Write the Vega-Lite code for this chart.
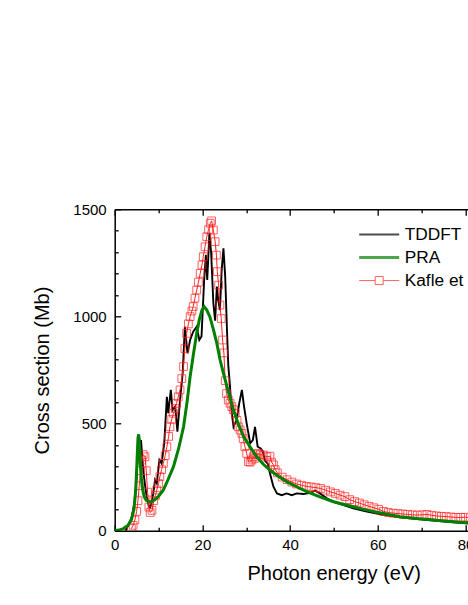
{
  "$schema": "https://vega.github.io/schema/vega-lite/v6.json",
  "width": 353.3,
  "height": 321.4,
  "autosize": {"type": "none"},
  "padding": {"left": 114.7, "top": 209.3, "right": 0, "bottom": 74.3},
  "config": {
    "font": "Liberation Sans",
    "view": {"stroke": null},
    "axis": {
      "domainColor": "black", "domainWidth": 1.5, "tickColor": "black", "tickWidth": 1.3,
      "labelColor": "black", "labelFont": "Liberation Sans", "labelFontSize": 15,
      "titleColor": "black", "titleFont": "Liberation Sans", "titleFontSize": 20, "titleFontWeight": "normal",
      "grid": false, "labelFlush": false, "labelOverlap": false
    }
  },
  "datasets": {
    "tddft": [
      {"e":2.5,"cs":0},{"e":3.1,"cs":26},{"e":3.9,"cs":65},{"e":4.6,"cs":143},{"e":5.0,"cs":250},{"e":5.3,"cs":380},{"e":5.6,"cs":431},{"e":5.8,"cs":400},{"e":6.0,"cs":423},{"e":6.5,"cs":283},{"e":7.0,"cs":200},{"e":7.3,"cs":159},{"e":7.8,"cs":112},{"e":8.1,"cs":109},{"e":8.5,"cs":140},{"e":8.8,"cs":174},{"e":9.2,"cs":237},{"e":9.6,"cs":221},{"e":10.2,"cs":330},{"e":10.7,"cs":314},{"e":11.3,"cs":408},{"e":11.9,"cs":625},{"e":12.2,"cs":548},{"e":12.8,"cs":657},{"e":13.2,"cs":563},{"e":13.8,"cs":579},{"e":14.3,"cs":462},{"e":14.9,"cs":610},{"e":15.5,"cs":734},{"e":16.0,"cs":952},{"e":16.6,"cs":828},{"e":17.2,"cs":890},{"e":17.9,"cs":929},{"e":18.7,"cs":952},{"e":19.3,"cs":890},{"e":19.8,"cs":906},{"e":20.4,"cs":1170},{"e":20.8,"cs":1287},{"e":21.1,"cs":1170},{"e":21.6,"cs":1388},{"e":22.0,"cs":1295},{"e":22.5,"cs":1061},{"e":22.9,"cs":980},{"e":23.3,"cs":1139},{"e":23.6,"cs":1077},{"e":24.0,"cs":1030},{"e":24.4,"cs":1217},{"e":24.8,"cs":1318},{"e":25.2,"cs":1186},{"e":25.6,"cs":940},{"e":25.9,"cs":773},{"e":26.3,"cs":672},{"e":26.7,"cs":548},{"e":27.1,"cs":485},{"e":27.8,"cs":517},{"e":28.4,"cs":594},{"e":29.0,"cs":657},{"e":29.5,"cs":579},{"e":30.1,"cs":500},{"e":30.9,"cs":408},{"e":31.5,"cs":423},{"e":32.0,"cs":485},{"e":32.6,"cs":392},{"e":33.3,"cs":384},{"e":33.8,"cs":369},{"e":34.3,"cs":325},{"e":34.9,"cs":314},{"e":35.4,"cs":268},{"e":36.2,"cs":205},{"e":37.0,"cs":174},{"e":38.1,"cs":166},{"e":39.2,"cs":174},{"e":40.4,"cs":166},{"e":41.5,"cs":174},{"e":43.0,"cs":171},{"e":44.6,"cs":177},{"e":45.7,"cs":187},{"e":46.8,"cs":174},{"e":48.4,"cs":151},{"e":49.9,"cs":135},{"e":52.2,"cs":120},{"e":54.4,"cs":104},{"e":57.5,"cs":89},{"e":61.0,"cs":75},{"e":65.0,"cs":62},{"e":69.0,"cs":54},{"e":72.7,"cs":47},{"e":76.5,"cs":40},{"e":80.3,"cs":34},{"e":82.0,"cs":32}
    ],
    "pra": [
      {"e":0,"cs":0},{"e":1,"cs":3},{"e":2,"cs":10},{"e":3,"cs":25},{"e":3.8,"cs":50},{"e":4.4,"cs":100},{"e":4.8,"cs":190},{"e":5.1,"cs":330},{"e":5.3,"cs":430},{"e":5.45,"cs":450},{"e":5.6,"cs":420},{"e":5.8,"cs":330},{"e":6.0,"cs":260},{"e":6.3,"cs":200},{"e":6.7,"cs":160},{"e":7.2,"cs":142},{"e":7.8,"cs":136},{"e":8.4,"cs":135},{"e":9.2,"cs":145},{"e":10.1,"cs":163},{"e":11.1,"cs":190},{"e":12.2,"cs":240},{"e":13.4,"cs":299},{"e":14.6,"cs":385},{"e":15.7,"cs":485},{"e":16.5,"cs":600},{"e":17.2,"cs":719},{"e":18.0,"cs":830},{"e":18.7,"cs":921},{"e":19.3,"cs":985},{"e":19.9,"cs":1030},{"e":20.4,"cs":1046},{"e":21.0,"cs":1030},{"e":21.7,"cs":999},{"e":22.5,"cs":940},{"e":23.3,"cs":874},{"e":24.0,"cs":800},{"e":24.8,"cs":734},{"e":25.9,"cs":650},{"e":27.1,"cs":563},{"e":28.2,"cs":497},{"e":29.4,"cs":439},{"e":30.9,"cs":390},{"e":32.4,"cs":345},{"e":33.9,"cs":310},{"e":35.4,"cs":283},{"e":37.3,"cs":254},{"e":39.2,"cs":229},{"e":41.5,"cs":205},{"e":43.8,"cs":182},{"e":46.8,"cs":158},{"e":49.9,"cs":135},{"e":53.7,"cs":115},{"e":57.5,"cs":96},{"e":61.3,"cs":80},{"e":65.1,"cs":65},{"e":68.9,"cs":57},{"e":72.7,"cs":50},{"e":76.5,"cs":43},{"e":80.3,"cs":37},{"e":82.0,"cs":35}
    ],
    "kafle": [
      {"e":3.8,"cs":10},{"e":4.2,"cs":25},{"e":4.6,"cs":50},{"e":5.0,"cs":90},{"e":5.3,"cs":140},{"e":5.6,"cs":210},{"e":5.9,"cs":280},{"e":6.2,"cs":330},{"e":6.5,"cs":355},{"e":6.9,"cs":345},{"e":7.2,"cs":280},{"e":7.5,"cs":180},{"e":7.8,"cs":110},{"e":8.1,"cs":85},{"e":8.5,"cs":95},{"e":8.9,"cs":140},{"e":9.3,"cs":165},{"e":9.6,"cs":190},{"e":10.0,"cs":220},{"e":10.3,"cs":252},{"e":10.7,"cs":285},{"e":11.1,"cs":314},{"e":11.5,"cs":350},{"e":11.9,"cs":392},{"e":12.3,"cs":440},{"e":12.6,"cs":485},{"e":13.0,"cs":520},{"e":13.4,"cs":548},{"e":13.8,"cs":570},{"e":14.1,"cs":594},{"e":14.5,"cs":625},{"e":14.9,"cs":657},{"e":15.3,"cs":710},{"e":15.7,"cs":766},{"e":16.0,"cs":850},{"e":16.4,"cs":921},{"e":16.8,"cs":965},{"e":17.2,"cs":999},{"e":17.6,"cs":1025},{"e":17.9,"cs":1046},{"e":18.3,"cs":1085},{"e":18.7,"cs":1123},{"e":19.1,"cs":1160},{"e":19.5,"cs":1201},{"e":19.9,"cs":1240},{"e":20.2,"cs":1279},{"e":20.6,"cs":1325},{"e":21.0,"cs":1372},{"e":21.4,"cs":1405},{"e":21.8,"cs":1435},{"e":22.1,"cs":1446},{"e":22.5,"cs":1403},{"e":22.9,"cs":1349},{"e":23.2,"cs":1286},{"e":23.4,"cs":1209},{"e":23.7,"cs":1146},{"e":24.0,"cs":1053},{"e":24.3,"cs":990},{"e":24.6,"cs":890},{"e":24.9,"cs":830},{"e":25.2,"cs":700},{"e":25.5,"cs":640},{"e":25.9,"cs":610},{"e":26.3,"cs":595},{"e":26.7,"cs":579},{"e":27.1,"cs":565},{"e":27.5,"cs":548},{"e":27.9,"cs":515},{"e":28.2,"cs":485},{"e":28.6,"cs":470},{"e":29.0,"cs":454},{"e":29.3,"cs":430},{"e":29.7,"cs":392},{"e":30.1,"cs":361},{"e":30.5,"cs":322},{"e":30.9,"cs":320},{"e":31.3,"cs":330},{"e":31.6,"cs":345},{"e":32.0,"cs":338},{"e":32.4,"cs":355},{"e":32.7,"cs":361},{"e":33.2,"cs":355},{"e":33.9,"cs":353},{"e":34.7,"cs":345},{"e":35.4,"cs":348},{"e":35.8,"cs":320},{"e":36.2,"cs":307},{"e":36.6,"cs":285},{"e":37.1,"cs":270},{"e":38.2,"cs":250},{"e":39.3,"cs":238},{"e":40.4,"cs":227},{"e":41.5,"cs":218},{"e":42.6,"cs":212},{"e":43.7,"cs":207},{"e":44.8,"cs":204},{"e":45.9,"cs":201},{"e":47.0,"cs":197},{"e":48.1,"cs":189},{"e":49.2,"cs":181},{"e":50.3,"cs":174},{"e":51.4,"cs":166},{"e":52.5,"cs":159},{"e":53.6,"cs":145},{"e":54.7,"cs":136},{"e":55.8,"cs":129},{"e":56.9,"cs":121},{"e":58.0,"cs":114},{"e":59.1,"cs":107},{"e":60.2,"cs":100},{"e":61.3,"cs":90},{"e":62.4,"cs":85},{"e":63.5,"cs":82},{"e":64.6,"cs":80},{"e":65.7,"cs":78},{"e":66.8,"cs":76},{"e":67.9,"cs":74},{"e":69.0,"cs":73},{"e":70.1,"cs":74},{"e":71.2,"cs":76},{"e":72.3,"cs":72},{"e":73.4,"cs":69},{"e":74.5,"cs":67},{"e":75.6,"cs":66},{"e":76.7,"cs":64},{"e":77.8,"cs":62},{"e":78.9,"cs":62},{"e":80.0,"cs":63},{"e":81.1,"cs":60}
    ],
    "leg": [
      {"series":"TDDFT","e":null,"cs":null},
      {"series":"PRA","e":null,"cs":null},
      {"series":"Kafle et al.","e":null,"cs":null}
    ]
  },
  "layer": [
    {
      "data": {"name": "tddft"},
      "mark": {"type": "line", "color": "black", "strokeWidth": 1.9, "clip": true},
      "encoding": {
        "x": {"field": "e", "type": "quantitative", "scale": {"domain": [0, 80.57], "nice": false},
          "axis": {"orient": "bottom", "values": [0,10,20,30,40,50,60,70,80],
            "labelExpr": "datum.value % 20 === 0 ? datum.label : ''",
            "tickSize": {"condition": {"test": "datum.value % 20 === 0", "value": -6}, "value": -3.5},
            "labelPadding": 13, "title": "Photon energy (eV)", "titleX": 219, "titlePadding": 8}},
        "y": {"field": "cs", "type": "quantitative", "scale": {"domain": [0, 1500], "nice": false},
          "axis": {"orient": "left", "values": [0,100,200,300,400,500,600,700,800,900,1000,1100,1200,1300,1400,1500],
            "labelExpr": "datum.value % 500 === 0 ? datum.label : ''",
            "tickSize": {"condition": {"test": "datum.value % 500 === 0", "value": -6}, "value": -3.5},
            "labelPadding": 14.5, "title": "Cross section (Mb)", "titlePadding": 20, "format": "d"}}
      }
    },
    {
      "data": {"name": "kafle"},
      "mark": {"type": "line", "color": "#ff2020", "strokeWidth": 1, "clip": true},
      "encoding": {
        "x": {"field": "e", "type": "quantitative", "axis": null},
        "y": {"field": "cs", "type": "quantitative", "axis": null}
      }
    },
    {
      "data": {"name": "kafle"},
      "mark": {"type": "point", "shape": "square", "size": 60, "filled": false, "color": "#ff2020", "strokeWidth": 1, "opacity": 0.7, "clip": true},
      "encoding": {
        "x": {"field": "e", "type": "quantitative", "axis": null},
        "y": {"field": "cs", "type": "quantitative", "axis": null}
      }
    },
    {
      "data": {"name": "pra"},
      "mark": {"type": "line", "color": "#008000", "strokeWidth": 3, "clip": true},
      "encoding": {
        "x": {"field": "e", "type": "quantitative",
          "axis": {"orient": "top", "values": [0,10,20,30,40,50,60,70,80], "labels": false, "title": null,
            "tickSize": {"condition": {"test": "datum.value % 20 === 0", "value": -6}, "value": -3.5}}},
        "y": {"field": "cs", "type": "quantitative", "axis": null}
      }
    },
    {
      "data": {"name": "leg"},
      "mark": {"type": "point", "filled": false},
      "encoding": {
        "x": {"field": "e", "type": "quantitative", "axis": null},
        "y": {"field": "cs", "type": "quantitative", "axis": null},
        "stroke": {"field": "series", "type": "nominal",
          "scale": {"domain": ["TDDFT", "PRA", "Kafle et al."], "range": ["black", "#008000", "#ff2020"]},
          "legend": {"title": null, "orient": "none", "legendX": 243, "legendY": 14, "symbolSize": 1600, "clipHeight": 22.5,
            "rowPadding": 0, "padding": 0, "labelFontSize": 17.3, "labelFont": "Liberation Sans", "labelColor": "black", "labelOffset": 4, "symbolFillColor": "transparent"}},
        "shape": {"field": "series", "type": "nominal",
          "scale": {"domain": ["TDDFT", "PRA", "Kafle et al."], "range": ["M-1,0H1", "M-1,0H1", "M-1,0H-0.2M0.2,0H1M-0.2,-0.2H0.2V0.2H-0.2Z"]}},
        "strokeWidth": {"field": "series", "type": "ordinal",
          "scale": {"type": "ordinal", "domain": ["TDDFT", "PRA", "Kafle et al."], "range": [1.9, 3, 1]}}
      }
    }
  ],
  "resolve": {"axis": {"x": "independent", "y": "independent"}}
}
